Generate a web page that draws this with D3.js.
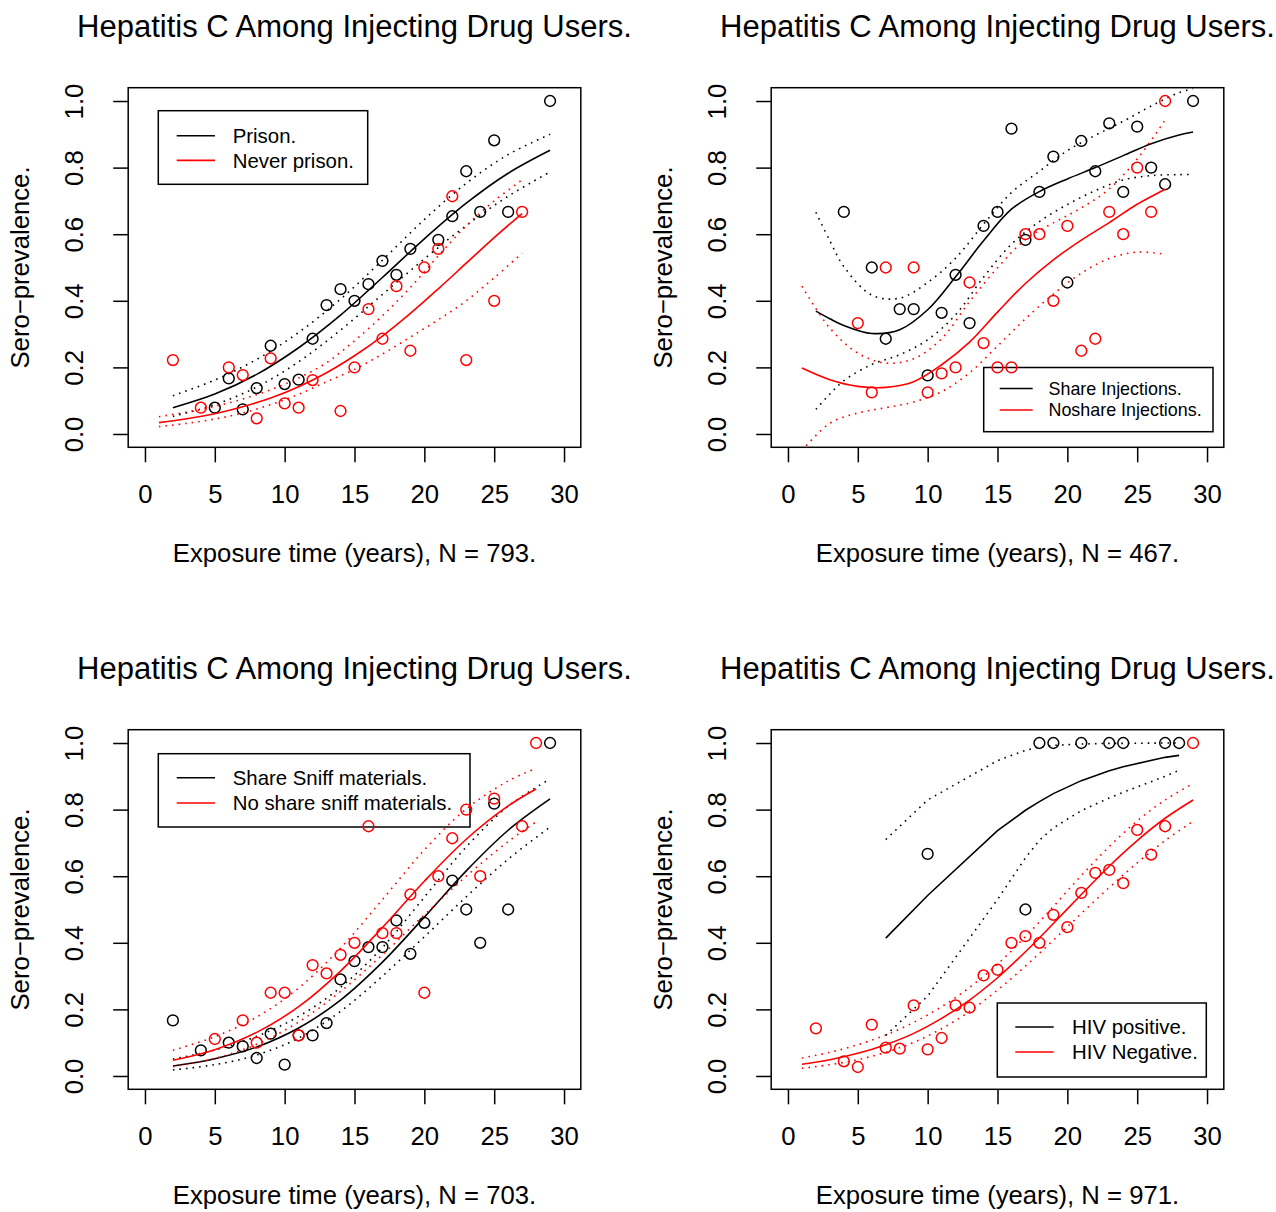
<!DOCTYPE html>
<html>
<head>
<meta charset="utf-8">
<script src="https://cdn.jsdelivr.net/npm/d3@7"></script>
<style>
  body { margin: 0; background: #fff; }
  svg { display: block; font-family: "Liberation Sans", Arial, Helvetica, sans-serif; }
</style>
</head>
<body>
<div id="chart"></div>
<script>
// ---------- data ----------
const xTicks = [0, 5, 10, 15, 20, 25, 30];
const yTicks = [0, 0.2, 0.4, 0.6, 0.8, 1.0];
const title = "Hepatitis C Among Injecting Drug Users.";
const yLabel = "Sero\u2212prevalence.";
const xLabels = [
  "Exposure time (years), N = 793.",
  "Exposure time (years), N = 467.",
  "Exposure time (years), N = 703.",
  "Exposure time (years), N = 971."
];

// panel 1: prison
const prisonYears = [5, 6, 7, 8, 9, 10, 11, 12, 13, 14, 15, 16, 17, 18, 19, 21, 22, 23, 24, 25, 26, 29];
const prisonRates = [0.079, 0.167, 0.074, 0.138, 0.265, 0.15, 0.163, 0.286, 0.387, 0.435, 0.4, 0.45, 0.52, 0.478, 0.556, 0.583, 0.654, 0.789, 0.667, 0.882, 0.667, 1.0];
const prisonCurveYears = [2, 5, 8, 11, 14, 17, 20, 23, 26, 29];
const prisonFit = [0.079, 0.120, 0.179, 0.259, 0.357, 0.470, 0.586, 0.693, 0.783, 0.852];
const prisonLo = [0.053, 0.088, 0.141, 0.217, 0.312, 0.419, 0.526, 0.626, 0.714, 0.787];
const prisonHi = [0.115, 0.162, 0.224, 0.305, 0.405, 0.522, 0.644, 0.753, 0.839, 0.900];

const neverYears = [2, 4, 6, 7, 8, 9, 10, 11, 12, 14, 15, 16, 17, 18, 19, 20, 21, 22, 23, 25, 27];
const neverRates = [0.222, 0.079, 0.2, 0.177, 0.047, 0.227, 0.092, 0.079, 0.162, 0.069, 0.2, 0.375, 0.286, 0.444, 0.25, 0.5, 0.556, 0.714, 0.222, 0.4, 0.667];
const neverCurveYears = [1, 3, 5, 7, 9, 11, 13, 15, 17, 19, 21, 23, 25, 27];
const neverFit = [0.034, 0.046, 0.061, 0.082, 0.108, 0.142, 0.184, 0.235, 0.294, 0.362, 0.436, 0.513, 0.590, 0.662];
const neverLo = [0.022, 0.032, 0.045, 0.063, 0.088, 0.119, 0.157, 0.194, 0.240, 0.291, 0.343, 0.400, 0.469, 0.543];
const neverHi = [0.052, 0.066, 0.083, 0.105, 0.133, 0.168, 0.214, 0.280, 0.355, 0.440, 0.535, 0.625, 0.700, 0.763];

// panel 2: sharing injections
const shareYears = [4, 6, 7, 8, 9, 10, 11, 12, 13, 14, 15, 16, 17, 18, 19, 20, 21, 22, 23, 24, 25, 26, 27, 29];
const shareRates = [0.667, 0.5, 0.286, 0.375, 0.375, 0.176, 0.364, 0.478, 0.333, 0.625, 0.667, 0.917, 0.583, 0.727, 0.833, 0.455, 0.88, 0.789, 0.933, 0.727, 0.923, 0.8, 0.75, 1.0];
const shareCurveYears = [2, 3, 4, 6, 8, 10, 12, 14, 16, 18, 20, 22, 24, 26, 28, 29];
const shareFit = [0.369, 0.346, 0.326, 0.302, 0.313, 0.373, 0.472, 0.580, 0.675, 0.728, 0.766, 0.800, 0.836, 0.872, 0.898, 0.907];
const shareLo = [0.074, 0.120, 0.160, 0.209, 0.238, 0.283, 0.358, 0.471, 0.570, 0.638, 0.689, 0.731, 0.763, 0.776, 0.779, 0.779];
const shareHi = [0.666, 0.580, 0.503, 0.417, 0.408, 0.455, 0.528, 0.630, 0.725, 0.789, 0.851, 0.897, 0.939, 0.985, 1.025, 1.037];

const noshareYears = [5, 6, 7, 9, 10, 11, 12, 13, 14, 15, 16, 17, 18, 19, 20, 21, 22, 23, 24, 25, 26, 27];
const noshareRates = [0.333, 0.125, 0.5, 0.5, 0.125, 0.182, 0.2, 0.455, 0.273, 0.2, 0.2, 0.6, 0.6, 0.4, 0.625, 0.25, 0.286, 0.667, 0.6, 0.8, 0.667, 1.0];
const noshareCurveYears = [1, 3, 5, 7, 9, 11, 13, 15, 17, 19, 21, 23, 25, 27];
const noshareFit = [0.198, 0.163, 0.143, 0.140, 0.157, 0.208, 0.276, 0.366, 0.452, 0.523, 0.582, 0.635, 0.690, 0.735];
const noshareLo = [-0.05, 0.032, 0.063, 0.079, 0.096, 0.127, 0.184, 0.264, 0.346, 0.420, 0.483, 0.527, 0.546, 0.540];
const noshareHi = [0.444, 0.318, 0.243, 0.213, 0.226, 0.286, 0.398, 0.499, 0.584, 0.634, 0.679, 0.736, 0.826, 0.943];

// panel 3: sharing sniff materials
const sniffYears = [2, 4, 6, 7, 8, 9, 10, 11, 12, 13, 14, 15, 16, 17, 18, 19, 20, 22, 23, 24, 25, 26, 29];
const sniffRates = [0.167, 0.077, 0.1, 0.089, 0.054, 0.127, 0.034, 0.122, 0.122, 0.159, 0.29, 0.345, 0.387, 0.387, 0.467, 0.367, 0.46, 0.587, 0.5, 0.4, 0.818, 0.5, 1.0];
const sniffCurveYears = [2, 5, 8, 11, 14, 17, 20, 23, 26, 29];
const sniffFit = [0.030, 0.052, 0.087, 0.144, 0.228, 0.342, 0.477, 0.616, 0.738, 0.832];
const sniffLo = [0.018, 0.034, 0.063, 0.114, 0.194, 0.300, 0.418, 0.538, 0.651, 0.748];
const sniffHi = [0.051, 0.078, 0.119, 0.179, 0.266, 0.386, 0.537, 0.688, 0.810, 0.892];

const nosniffYears = [5, 7, 8, 9, 10, 11, 12, 13, 14, 15, 16, 17, 18, 19, 20, 21, 22, 23, 24, 25, 27, 28];
const nosniffRates = [0.111, 0.167, 0.1, 0.25, 0.25, 0.122, 0.333, 0.308, 0.364, 0.4, 0.75, 0.429, 0.429, 0.545, 0.25, 0.6, 0.714, 0.8, 0.6, 0.833, 0.75, 1.0];
const nosniffCurveYears = [2, 5, 8, 11, 14, 17, 20, 23, 26, 28];
const nosniffFit = [0.047, 0.079, 0.131, 0.208, 0.315, 0.446, 0.585, 0.711, 0.811, 0.862];
const nosniffLo = [0.028, 0.053, 0.095, 0.162, 0.254, 0.364, 0.484, 0.600, 0.704, 0.763];
const nosniffHi = [0.077, 0.118, 0.177, 0.264, 0.384, 0.530, 0.679, 0.802, 0.886, 0.924];

// panel 4: HIV status
const hivPosYears = [10, 17, 18, 19, 21, 23, 24, 27, 28];
const hivPosRates = [0.667, 0.5, 1, 1, 1, 1, 1, 1, 1];
const hivPosCurveYears = [7, 10, 15, 17, 18, 19, 21, 23, 24, 27, 28];
const hivPosFit = [0.414, 0.542, 0.737, 0.798, 0.824, 0.848, 0.887, 0.917, 0.929, 0.957, 0.963];
const hivPosLo = [0.122, 0.240, 0.530, 0.655, 0.708, 0.745, 0.797, 0.835, 0.852, 0.900, 0.918];
const hivPosHi = [0.710, 0.829, 0.947, 0.978, 0.988, 0.993, 0.997, 0.999, 0.999, 1.0, 1.0];

const hivNegYears = [2, 4, 5, 6, 7, 8, 9, 10, 11, 12, 13, 14, 15, 16, 17, 18, 19, 20, 21, 22, 23, 24, 25, 26, 27, 29];
const hivNegRates = [0.143, 0.044, 0.027, 0.154, 0.085, 0.082, 0.212, 0.08, 0.114, 0.212, 0.205, 0.302, 0.319, 0.4, 0.42, 0.4, 0.484, 0.447, 0.55, 0.61, 0.619, 0.579, 0.739, 0.665, 0.75, 1.0];
const hivNegCurveYears = [1, 3, 5, 7, 9, 11, 13, 15, 17, 19, 21, 23, 25, 27, 29];
const hivNegFit = [0.035, 0.049, 0.068, 0.094, 0.128, 0.173, 0.228, 0.295, 0.373, 0.458, 0.545, 0.630, 0.707, 0.774, 0.829];
const hivNegLo = [0.023, 0.034, 0.049, 0.071, 0.101, 0.142, 0.194, 0.258, 0.330, 0.408, 0.488, 0.566, 0.640, 0.707, 0.765];
const hivNegHi = [0.054, 0.071, 0.094, 0.123, 0.161, 0.208, 0.266, 0.336, 0.418, 0.509, 0.602, 0.689, 0.766, 0.829, 0.878];

const legendLabels = [
  ["Prison.", "Never prison."],
  ["Share Injections.", "Noshare Injections."],
  ["Share Sniff materials.", "No share sniff materials."],
  ["HIV positive.", "HIV Negative."]
];

// ---------- layout ----------
const W = 1276, H = 1212;
const colors = ["#000000", "#ff0000"];
const box = { left: 128.2, right: 580.8, top: 87.7, bottom: 447.3 };
const fs = 25.7; // base font size (cex = 1)

const x = d3.scaleLinear().domain([-1.2, 31.2]).range([box.left, box.right]);
const y = d3.scaleLinear().domain([-0.04, 1.04]).range([box.bottom, box.top]);

// legend boxes, relative to each panel
const legends = [
  { x0: 158.3, x1: 367.7, y0: 110.7, y1: 184.3, l0: 176.7, l1: 215, rows: [135.7, 160.4], tx: 232.7, size: 20.4 },
  { x0: 340.7, x1: 570, y0: 367.5, y1: 431.7, l0: 356.7, l1: 389.7, rows: [388.5, 410], tx: 405.5, size: 17.9 },
  { x0: 158.3, x1: 470, y0: 111.7, y1: 185, l0: 176.7, l1: 215, rows: [135.7, 161], tx: 232.7, size: 20.4 },
  { x0: 354.3, x1: 563.3, y0: 361, y1: 435, l0: 372.3, l1: 410.7, rows: [385, 410], tx: 429, size: 20.4 }
];

function group(years, rates, cy, fit, lo, hi, curve) {
  return { years, rates, cy, fit, lo, hi, curve: curve || d3.curveCatmullRom.alpha(0.5) };
}

const panels = [
  { dx: 0, dy: 0, groups: [
    group(prisonYears, prisonRates, prisonCurveYears, prisonFit, prisonLo, prisonHi),
    group(neverYears, neverRates, neverCurveYears, neverFit, neverLo, neverHi)] },
  { dx: 643, dy: 0, groups: [
    group(shareYears, shareRates, shareCurveYears, shareFit, shareLo, shareHi),
    group(noshareYears, noshareRates, noshareCurveYears, noshareFit, noshareLo, noshareHi)] },
  { dx: 0, dy: 642, groups: [
    group(sniffYears, sniffRates, sniffCurveYears, sniffFit, sniffLo, sniffHi),
    group(nosniffYears, nosniffRates, nosniffCurveYears, nosniffFit, nosniffLo, nosniffHi)] },
  { dx: 643, dy: 642, groups: [
    group(hivPosYears, hivPosRates, hivPosCurveYears, hivPosFit, hivPosLo, hivPosHi, d3.curveLinear),
    group(hivNegYears, hivNegRates, hivNegCurveYears, hivNegFit, hivNegLo, hivNegHi)] }
];

const svg = d3.select("#chart").append("svg").attr("width", W).attr("height", H);
svg.append("rect").attr("width", W).attr("height", H).attr("fill", "#fff");

panels.forEach((p, i) => {
  const g = svg.append("g").attr("transform", `translate(${p.dx},${p.dy})`);
  const cx = (box.left + box.right) / 2;

  // clip to plot region
  g.append("clipPath").attr("id", "clip" + i)
    .append("rect")
    .attr("x", box.left).attr("y", box.top)
    .attr("width", box.right - box.left).attr("height", box.bottom - box.top);

  // titles
  g.append("text").attr("x", cx).attr("y", 36.5).attr("text-anchor", "middle")
    .attr("font-size", 31).text(title);
  g.append("text").attr("x", cx).attr("y", 561.5).attr("text-anchor", "middle")
    .attr("font-size", fs).text(xLabels[i]);
  g.append("text").attr("text-anchor", "middle").attr("font-size", fs)
    .attr("transform", `translate(28.5,${(box.top + box.bottom) / 2}) rotate(-90)`)
    .text(yLabel);

  // axes
  g.append("g").attr("transform", `translate(0,${box.bottom})`)
    .call(d3.axisBottom(x).tickValues(xTicks).tickSize(15).tickFormat(d3.format("d")))
    .call(a => a.select(".domain").remove())
    .call(a => a.selectAll("line").attr("stroke-width", 1.5))
    .call(a => a.selectAll("text").attr("y", 56).attr("dy", null)
      .attr("font-size", fs).attr("font-family", null).attr("fill", "#000"))
    .attr("font-family", null).attr("font-size", null);

  g.append("g").attr("transform", `translate(${box.left},0)`)
    .call(d3.axisLeft(y).tickValues(yTicks).tickSize(15).tickFormat(d3.format(".1f")))
    .call(a => a.select(".domain").remove())
    .call(a => a.selectAll("line").attr("stroke-width", 1.5))
    .call(a => a.selectAll("text").attr("x", null).attr("y", null).attr("dy", null)
      .attr("text-anchor", "middle")
      .attr("transform", `translate(${82.5 - box.left},0) rotate(-90)`)
      .attr("font-size", fs).attr("font-family", null).attr("fill", "#000"))
    .attr("font-family", null).attr("font-size", null);

  // legend (transparent, drawn under the data)
  const L = legends[i];
  const lg = g.append("g");
  lg.append("rect").attr("x", L.x0).attr("y", L.y0)
    .attr("width", L.x1 - L.x0).attr("height", L.y1 - L.y0)
    .attr("fill", "none").attr("stroke", "#000").attr("stroke-width", 1.5);
  legendLabels[i].forEach((lab, k) => {
    lg.append("line").attr("x1", L.l0).attr("x2", L.l1)
      .attr("y1", L.rows[k]).attr("y2", L.rows[k])
      .attr("stroke", colors[k]).attr("stroke-width", 1.6);
    lg.append("text").attr("x", L.tx).attr("y", L.rows[k] + 0.36 * L.size)
      .attr("font-size", L.size).text(lab);
  });

  // data
  const plot = g.append("g").attr("clip-path", `url(#clip${i})`);
  p.groups.forEach((s, k) => {
    const line = d3.line().x(d => x(d[0])).y(d => y(d[1])).curve(s.curve);
    [s.lo, s.hi].forEach(band => {
      plot.append("path").datum(d3.zip(s.cy, band))
        .attr("d", line).attr("fill", "none").attr("stroke", colors[k])
        .attr("stroke-width", 1.6).attr("stroke-dasharray", "1.6 5");
    });
    plot.append("path").datum(d3.zip(s.cy, s.fit))
      .attr("d", line).attr("fill", "none").attr("stroke", colors[k])
      .attr("stroke-width", 1.6);
    plot.selectAll(null).data(d3.zip(s.years, s.rates)).enter()
      .append("circle")
      .attr("cx", d => x(d[0])).attr("cy", d => y(d[1])).attr("r", 5.4)
      .attr("fill", "none").attr("stroke", colors[k]).attr("stroke-width", 1.5);
  });

  // frame
  g.append("rect").attr("x", box.left).attr("y", box.top)
    .attr("width", box.right - box.left).attr("height", box.bottom - box.top)
    .attr("fill", "none").attr("stroke", "#000").attr("stroke-width", 1.5);
});
</script>
</body>
</html>
